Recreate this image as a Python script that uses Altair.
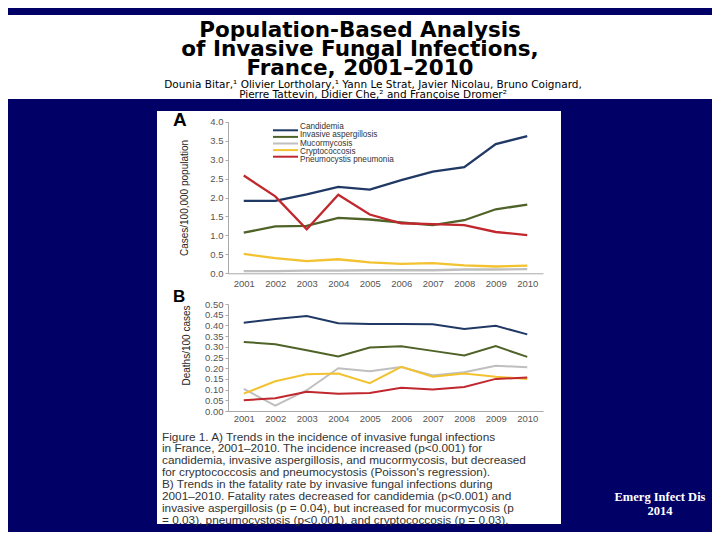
import altair as alt
import pandas as pd

# ---------------- data ----------------
years = ["2001", "2002", "2003", "2004", "2005", "2006", "2007", "2008", "2009", "2010"]
series = ["Candidemia", "Invasive aspergillosis", "Mucormycosis", "Cryptococcosis", "Pneumocystis pneumonia"]
colors = ["#1F3864", "#4F6228", "#BFBFBF", "#F2C230", "#C0282D"]

inc_candidemia = [1.91, 1.91, 2.08, 2.28, 2.21, 2.46, 2.68, 2.80, 3.41, 3.62]
inc_aspergillosis = [1.07, 1.24, 1.25, 1.46, 1.42, 1.34, 1.27, 1.40, 1.69, 1.81]
inc_mucormycosis = [0.06, 0.06, 0.07, 0.07, 0.08, 0.08, 0.08, 0.10, 0.10, 0.11]
inc_cryptococcosis = [0.51, 0.40, 0.32, 0.37, 0.29, 0.25, 0.27, 0.21, 0.18, 0.20]
inc_pneumocystis = [2.58, 2.03, 1.16, 2.07, 1.55, 1.32, 1.30, 1.27, 1.09, 1.01]

fat_candidemia = [0.412, 0.430, 0.444, 0.410, 0.406, 0.406, 0.405, 0.383, 0.398, 0.358]
fat_aspergillosis = [0.323, 0.312, 0.284, 0.255, 0.297, 0.303, 0.281, 0.259, 0.303, 0.253]
fat_mucormycosis = [0.103, 0.025, 0.097, 0.200, 0.186, 0.205, 0.166, 0.181, 0.211, 0.205]
fat_cryptococcosis = [0.081, 0.139, 0.172, 0.175, 0.130, 0.206, 0.160, 0.175, 0.160, 0.150]
fat_pneumocystis = [0.050, 0.060, 0.090, 0.081, 0.084, 0.109, 0.100, 0.112, 0.150, 0.156]

a_ticks = [0.0, 0.5, 1.0, 1.5, 2.0, 2.5, 3.0, 3.5, 4.0]
b_ticks = [0.0, 0.05, 0.10, 0.15, 0.20, 0.25, 0.30, 0.35, 0.40, 0.45, 0.50]

title_lines = ["Population-Based Analysis", "of Invasive Fungal Infections,", "France, 2001\u20132010"]
author_lines = [
    "Dounia Bitar,\u00b9 Olivier Lortholary,\u00b9 Yann Le Strat, Javier Nicolau, Bruno Coignard,",
    "Pierre Tattevin, Didier Che,\u00b2 and Fran\u00e7oise Dromer\u00b2",
]
caption_lines = [
    "Figure 1. A) Trends in the incidence of invasive fungal infections",
    "in France, 2001\u20132010. The incidence increased (p<0.001) for",
    "candidemia, invasive aspergillosis, and mucormycosis, but decreased",
    "for cryptococcosis and pneumocystosis (Poisson's regression).",
    "B) Trends in the fatality rate by invasive fungal infections during",
    "2001\u20132010. Fatality rates decreased for candidemia (p<0.001) and",
    "invasive aspergillosis (p = 0.04), but increased for mucormycosis (p",
    "= 0.03), pneumocystosis (p<0.001), and cryptococcosis (p = 0.03).",
]
source_lines = ["Emerg Infect Dis", "2014"]

# ---------------- tables ----------------
inc = [inc_candidemia, inc_aspergillosis, inc_mucormycosis, inc_cryptococcosis, inc_pneumocystis]
fat = [fat_candidemia, fat_aspergillosis, fat_mucormycosis, fat_cryptococcosis, fat_pneumocystis]
df_a = pd.DataFrame([{"year": y, "series": s, "value": v}
                     for s, vals in zip(series, inc) for y, v in zip(years, vals)])
df_b = pd.DataFrame([{"year": y, "series": s, "value": v}
                     for s, vals in zip(series, fat) for y, v in zip(years, vals)])
df_leg = pd.DataFrame({"series": series})
one = pd.DataFrame({"k": [0]})

W, H = 704, 524
NAVY = "#000066"
color_scale = alt.Scale(domain=series, range=colors)

# ---------------- decorations ----------------
banner = alt.Chart(one).mark_rect(color="white").encode(
    x=alt.value(0), x2=alt.value(W), y=alt.value(7), y2=alt.value(91))
panel = alt.Chart(one).mark_rect(color="white").encode(
    x=alt.value(149), x2=alt.value(553), y=alt.value(103), y2=alt.value(516))


def text_block(lines, **kw):
    return alt.Chart(pd.DataFrame({"t": ["\n".join(lines)]})).mark_text(
        lineBreak="\n", baseline="middle", **kw).encode(text="t:N")


title = text_block(title_lines, font="DejaVu Sans", fontWeight="bold", fontSize=21.5, lineHeight=19,
                   align="center", color="black").encode(x=alt.value(352), y=alt.value(22.5))
authors = text_block(author_lines, font="DejaVu Sans", fontSize=10.5, lineHeight=10,
                     align="center", color="black").encode(x=alt.value(365), y=alt.value(76.8))
caption = text_block(caption_lines, font="Liberation Sans", fontSize=11.8, lineHeight=11.86,
                     align="left", color="#333333").encode(x=alt.value(154), y=alt.value(428.5))
source = text_block(source_lines, font="Liberation Serif", fontWeight="bold", fontSize=12.5, lineHeight=14,
                    align="center", color="white").encode(x=alt.value(652), y=alt.value(489))
letter_a = text_block(["A"], font="Liberation Sans", fontWeight="bold", fontSize=19, align="left",
                      color="black").encode(x=alt.value(165), y=alt.value(112.3))
letter_b = text_block(["B"], font="Liberation Sans", fontWeight="bold", fontSize=17, align="left",
                      color="black").encode(x=alt.value(165), y=alt.value(289))

# ---------------- line panels ----------------
A_TOP, A_BOT = 113.7, 265.3
B_TOP, B_BOT = 296.0, 403.0
X_RANGE = [220, 535]

axis_common = dict(labelFont="Liberation Sans", labelFontSize=9.5, labelColor="#555555",
                   titleFont="Liberation Sans", titleFontSize=10, titleColor="#222222", titleFontWeight="normal",
                   domainColor="#AAAAAA", tickColor="#AAAAAA", grid=False, zindex=1)

line_a = alt.Chart(df_a).mark_line(strokeWidth=2.3).encode(
    x=alt.X("year:O", scale=alt.Scale(range=X_RANGE, padding=0.5),
            axis=alt.Axis(orient="bottom", offset=-(H - A_BOT), ticks=False, labelAngle=0, labelPadding=5,
                          title=None, **axis_common)),
    y=alt.Y("value:Q", scale=alt.Scale(domain=[0, 4], range=[A_BOT, A_TOP], nice=False),
            axis=alt.Axis(orient="left", offset=-X_RANGE[0], values=a_ticks, format=".1f", tickSize=3,
                          labelPadding=2, title="Cases/100,000 population", titlePadding=20, **axis_common)),
    color=alt.Color("series:N", scale=color_scale, legend=None),
    detail="series:N",
)

line_b = alt.Chart(df_b).mark_line(strokeWidth=2).encode(
    x=alt.X("year:O", scale=alt.Scale(range=X_RANGE, padding=0.5),
            axis=alt.Axis(orient="bottom", offset=-(H - B_BOT), ticks=False, labelAngle=0, labelPadding=2,
                          title=None, **axis_common)),
    y=alt.Y("value:Q", scale=alt.Scale(domain=[0, 0.5], range=[B_BOT, B_TOP], nice=False),
            axis=alt.Axis(orient="left", offset=-X_RANGE[0], values=b_ticks, format=".2f", tickSize=3,
                          labelPadding=2, title="Deaths/100 cases", titlePadding=13, titleY=337,
                          **axis_common)),
    color=alt.Color("series:N", scale=color_scale, legend=None),
    detail="series:N",
)

# ---------------- legend (panel A) ----------------
leg_y = alt.Y("series:N", scale=alt.Scale(domain=series, range=[119.0, 152.0], padding=0), axis=None)
leg_rule = alt.Chart(df_leg).mark_rule(strokeWidth=2).encode(
    x=alt.value(265), x2=alt.value(290), y=leg_y,
    color=alt.Color("series:N", scale=color_scale, legend=None))
leg_text = alt.Chart(df_leg).mark_text(align="left", baseline="middle", font="Liberation Sans",
                                       fontSize=8.2, color="#333333").encode(
    x=alt.value(292), y=leg_y, text="series:N")

chart = alt.layer(
    banner, panel, title, authors, letter_a, letter_b,
    line_a, line_b, leg_rule, leg_text, caption, source,
).resolve_scale(x="independent", y="independent", color="shared").properties(
    width=W, height=H, padding=0, autosize=alt.AutoSizeParams(type="none"), background=NAVY,
).configure_view(stroke=None)

chart.save("out.html", embed_options={"renderer": "svg", "actions": False})
